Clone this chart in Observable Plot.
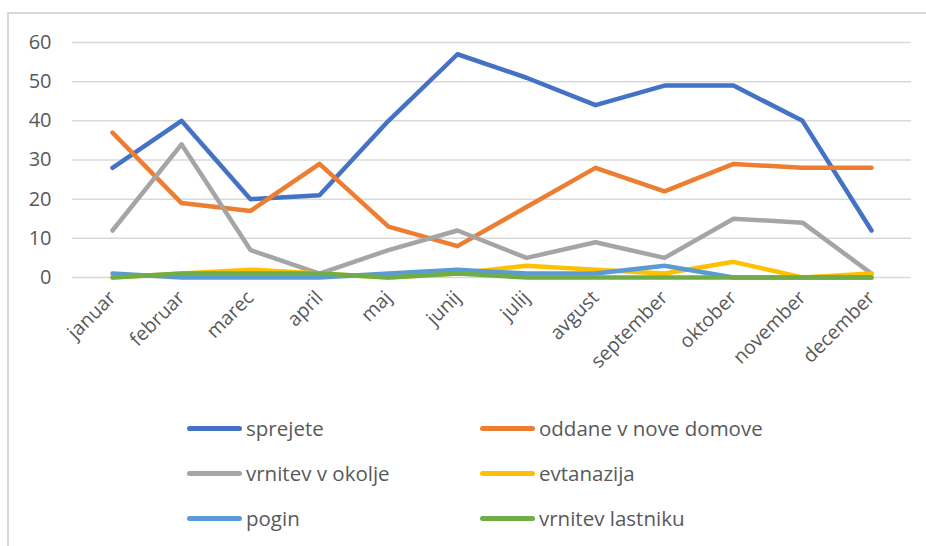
<!DOCTYPE html>
<html>
<head>
<meta charset="utf-8">
<script src="https://cdn.jsdelivr.net/npm/d3@7"></script>
<script src="https://cdn.jsdelivr.net/npm/@observablehq/plot@0.6"></script>
<style>
  html, body { margin: 0; padding: 0; background: #fff; }
  #wrap { position: relative; width: 926px; height: 546px; overflow: hidden; font-family: "Open Sans", sans-serif; }
  #frame { position: absolute; left: 7px; top: 12px; width: 940px; height: 560px; border-left: 2px solid #d9d9d9; border-top: 2px solid #d9d9d9; box-sizing: border-box; }
  #chart { position: absolute; left: 0; top: 0; }
  #legend { position: absolute; left: 0; top: 0; width: 926px; height: 546px; }
  .item { position: absolute; display: flex; align-items: center; height: 30px; font-size: 20.5px; color: #595959; white-space: nowrap; }
  .sw { width: 55px; height: 5px; border-radius: 3px; margin-right: 4px; }
</style>
</head>
<body>
<div id="wrap">
  <div id="frame"></div>
  <div id="chart"></div>
  <div id="legend"></div>
</div>
<script>
const months = ["januar","februar","marec","april","maj","junij","julij","avgust","september","oktober","november","december"];
const seriesNames = ["sprejete","oddane v nove domove","vrnitev v okolje","evtanazija","pogin","vrnitev lastniku"];
const seriesColors = ["#4472C4","#ED7D31","#A5A5A5","#FFC000","#5B9BD5","#70AD47"];
const sprejete = [28, 40, 20, 21, 40, 57, 51, 44, 49, 49, 40, 12];
const oddane = [37, 19, 17, 29, 13, 8, 18, 28, 22, 29, 28, 28];
const vrnitevOkolje = [12, 34, 7, 1, 7, 12, 5, 9, 5, 15, 14, 1];
const evtanazija = [0, 1, 2, 1, 0, 1, 3, 2, 1, 4, 0, 1];
const pogin = [1, 0, 0, 0, 1, 2, 1, 1, 3, 0, 0, 0];
const vrnitevLastniku = [0, 1, 1, 1, 0, 1, 0, 0, 0, 0, 0, 0];
const yTicks = [0, 10, 20, 30, 40, 50, 60];

const allSeries = [sprejete, oddane, vrnitevOkolje, evtanazija, pogin, vrnitevLastniku];
const data = [];
allSeries.forEach((vals, si) => vals.forEach((v, mi) => data.push({series: seriesNames[si], month: months[mi], value: v})));

const chart = Plot.plot({
  width: 926,
  height: 400,
  marginLeft: 72,
  marginRight: 15,
  marginTop: 42,
  marginBottom: 123,
  style: {fontFamily: "'Open Sans', sans-serif", fontSize: "18px", color: "#595959", background: "transparent"},
  x: {type: "point", domain: months, padding: 0.5, label: null},
  y: {domain: [0, 60], label: null},
  color: {domain: seriesNames, range: seriesColors},
  marks: [
    Plot.gridY(yTicks, {stroke: "#d9d9d9", strokeOpacity: 1, strokeWidth: 1.5}),
    Plot.axisY(yTicks, {tickSize: 0, tickPadding: 21, fontSize: 20, fill: "#595959", label: null}),
    Plot.axisX({tickSize: 0, tickRotate: -45, tickPadding: 17, fontSize: 19.5, fill: "#595959", label: null}),
    Plot.line(data, {x: "month", y: "value", z: "series", stroke: "series", strokeWidth: 4.5, strokeLinecap: "round", strokeLinejoin: "round"})
  ]
});
document.getElementById("chart").appendChild(chart);

const legend = document.getElementById("legend");
const pos = [[187, 428], [480, 428], [187, 473], [480, 473], [187, 518], [480, 518]];
seriesNames.forEach((name, i) => {
  const it = document.createElement("div");
  it.className = "item";
  it.style.left = pos[i][0] + "px";
  it.style.top = (pos[i][1] - 15) + "px";
  const sw = document.createElement("div");
  sw.className = "sw";
  sw.style.background = seriesColors[i];
  const t = document.createElement("span");
  t.textContent = name;
  it.appendChild(sw); it.appendChild(t);
  legend.appendChild(it);
});
</script>
</body>
</html>
